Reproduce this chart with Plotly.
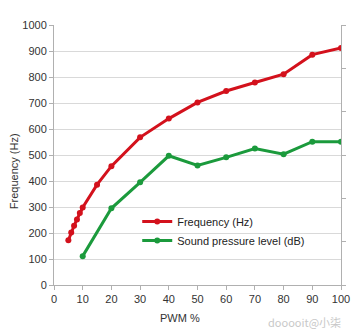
import plotly.graph_objects as go

pwm_freq = [5, 6, 7, 8, 9, 10, 15, 20, 30, 40, 50, 60, 70, 80, 90, 100]
frequency_hz = [172, 202, 228, 252, 277, 298, 386, 457, 568, 640, 702, 746, 779, 811, 886, 912]

pwm_spl = [10, 20, 30, 40, 50, 60, 70, 80, 90, 100]
sound_pressure = [111, 295, 395, 497, 460, 491, 525, 503, 551, 551]

x_ticks = [0, 10, 20, 30, 40, 50, 60, 70, 80, 90, 100]
y_ticks = [0, 100, 200, 300, 400, 500, 600, 700, 800, 900, 1000]

RED = "#d3111c"
GREEN = "#1b9a3c"
FONT = "Liberation Sans, Arial, sans-serif"

fig = go.Figure()
fig.add_trace(go.Scatter(
    x=pwm_freq, y=frequency_hz, mode="lines+markers", name="Frequency (Hz)",
    line=dict(color=RED, width=3), marker=dict(color=RED, size=6),
))
fig.add_trace(go.Scatter(
    x=pwm_spl, y=sound_pressure, mode="lines+markers", name="Sound pressure level (dB)",
    line=dict(color=GREEN, width=3), marker=dict(color=GREEN, size=6),
))
# invisible trace to show the secondary (right) axis frame
fig.add_trace(go.Scatter(x=[0], y=[0], yaxis="y2", mode="markers",
                         marker=dict(opacity=0), showlegend=False, hoverinfo="skip"))

fig.update_layout(
    width=363, height=331,
    margin=dict(l=54, r=22, t=25, b=46),
    paper_bgcolor="white", plot_bgcolor="white",
    font=dict(family=FONT, size=11, color="#333333"),
    showlegend=True,
    legend=dict(x=0.29, y=0.30, xanchor="left", yanchor="top",
                bgcolor="rgba(0,0,0,0)", font=dict(size=11, color="#222222"),
                tracegroupgap=0, itemwidth=30),
    xaxis=dict(range=[0, 100], tickvals=x_ticks, showgrid=False, zeroline=False,
               showline=True, linecolor="#b0b0b0", linewidth=1,
               ticks="outside", ticklen=4, tickcolor="#b0b0b0",
               tickfont=dict(size=11, color="#333333")),
    yaxis=dict(range=[0, 1000], tickvals=y_ticks, showgrid=True, gridcolor="#d9d9d9",
               zeroline=False, showline=True, linecolor="#b0b0b0", linewidth=1,
               ticks="outside", ticklen=4, tickcolor="#b0b0b0",
               tickfont=dict(size=11, color="#333333")),
    yaxis2=dict(range=[0, 6], dtick=1, overlaying="y", side="right",
                showgrid=False, zeroline=False, showticklabels=False,
                showline=True, linecolor="#b0b0b0", linewidth=1,
                ticks="outside", ticklen=4, tickcolor="#b0b0b0"),
    annotations=[
        dict(text="Frequency (Hz)", textangle=-90, xref="paper", yref="paper",
             x=-0.139, y=0.438, xanchor="center", yanchor="middle",
             showarrow=False, font=dict(size=11, color="#333333")),
        dict(text="PWM %", xref="paper", yref="paper", x=0.439, y=-0.127,
             xanchor="center", yanchor="middle",
             showarrow=False, font=dict(size=11, color="#333333")),
        dict(text="dooooit@小柒", xref="paper", yref="paper", x=1.008, y=-0.142,
             xanchor="right", yanchor="middle", showarrow=False,
             font=dict(size=11, color="#c8c8c8", family="Noto Sans CJK SC, sans-serif")),
    ],
)

fig.write_html("out.html")
